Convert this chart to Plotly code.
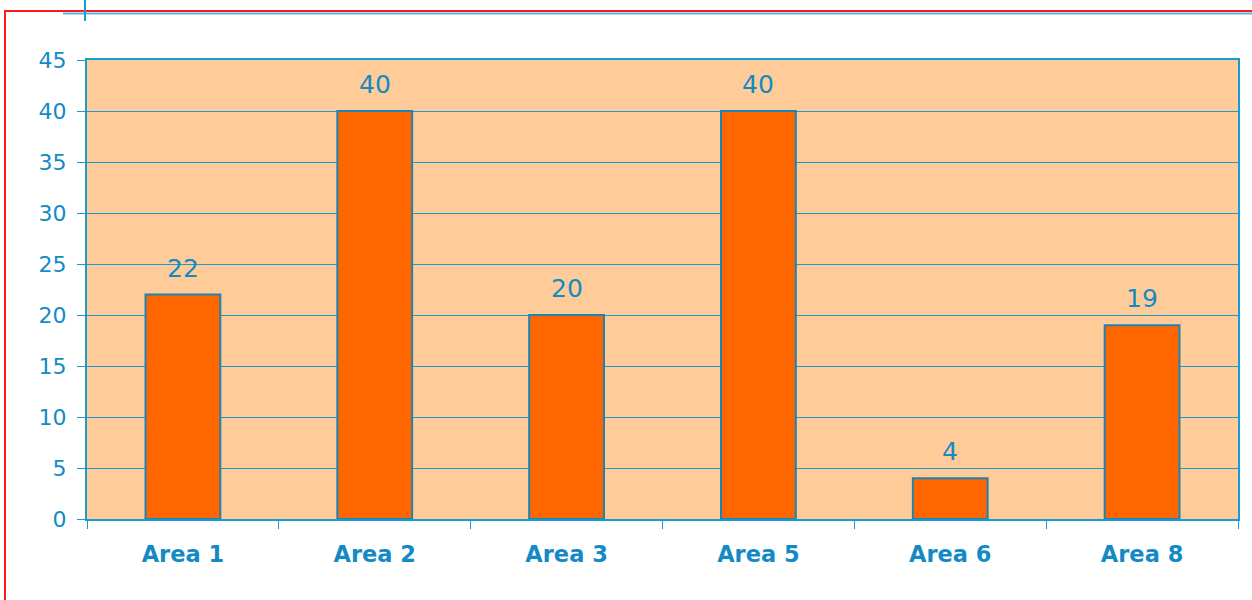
import plotly.graph_objects as go

categories = ["Area 1", "Area 2", "Area 3", "Area 5", "Area 6", "Area 8"]
values = [22, 40, 20, 40, 4, 19]
y_ticks = [0, 5, 10, 15, 20, 25, 30, 35, 40, 45]

BLUE = "#148ac5"
LINE = "#1a9bd0"
FONT = "DejaVu Sans"

fig = go.Figure()
fig.add_trace(go.Bar(
    x=categories, y=values,
    marker=dict(color="#ff6600", line=dict(color="#1a85b5", width=2)),
    hoverinfo="x+y",
))

for c, v in zip(categories, values):
    fig.add_annotation(
        x=c, y=v, text=str(v), showarrow=False, yanchor="bottom",
        yshift=10, font=dict(family=FONT, size=25, color=BLUE),
    )

W, H = 1252, 600
L, R, T, B = 87, 14, 60, 81
pw, ph = W - L - R, H - T - B

def px(x):
    return (x - L) / pw

def py(y):
    return (H - B - y) / ph

fig.update_layout(
    width=W, height=H,
    margin=dict(l=L, r=R, t=T, b=B),
    paper_bgcolor="white", plot_bgcolor="#ffcc99",
    bargap=0.61, showlegend=False,
    font=dict(family=FONT, color=BLUE),
    xaxis=dict(
        tickson="boundaries", ticks="outside", ticklen=8, tickcolor=LINE,
        showline=True, linecolor=LINE, linewidth=2, mirror=True,
        tickfont=dict(family=FONT, size=22.5, color=BLUE, weight="bold"),
        ticklabelstandoff=14,
        showgrid=False,
    ),
    yaxis=dict(
        range=[0, 45], tickvals=y_ticks, ticks="outside", ticklen=8, tickcolor=LINE,
        showline=True, linecolor=LINE, linewidth=2, mirror=True,
        gridcolor=LINE, gridwidth=1.3,
        tickfont=dict(family=FONT, size=22, color=BLUE),
        ticklabelstandoff=6,
        zeroline=False,
    ),
    shapes=[
        dict(type="line", xref="paper", yref="paper", x0=px(63), x1=px(1252), y0=py(13.5), y1=py(13.5),
             line=dict(color="#5ab4dc", width=2)),
        dict(type="line", xref="paper", yref="paper", x0=px(4), x1=px(1252), y0=py(11), y1=py(11),
             line=dict(color="#ff1a1a", width=2)),
        dict(type="line", xref="paper", yref="paper", x0=px(5), x1=px(5), y0=py(11), y1=py(600),
             line=dict(color="#ff1a1a", width=2)),
        dict(type="line", xref="paper", yref="paper", x0=px(85), x1=px(85), y0=py(0), y1=py(21),
             line=dict(color=LINE, width=2)),
    ],
)

fig.write_html(
    "out.html",
    config={"displayModeBar": False},
    post_script="document.body.style.margin='0';document.body.style.overflow='hidden';",
)
